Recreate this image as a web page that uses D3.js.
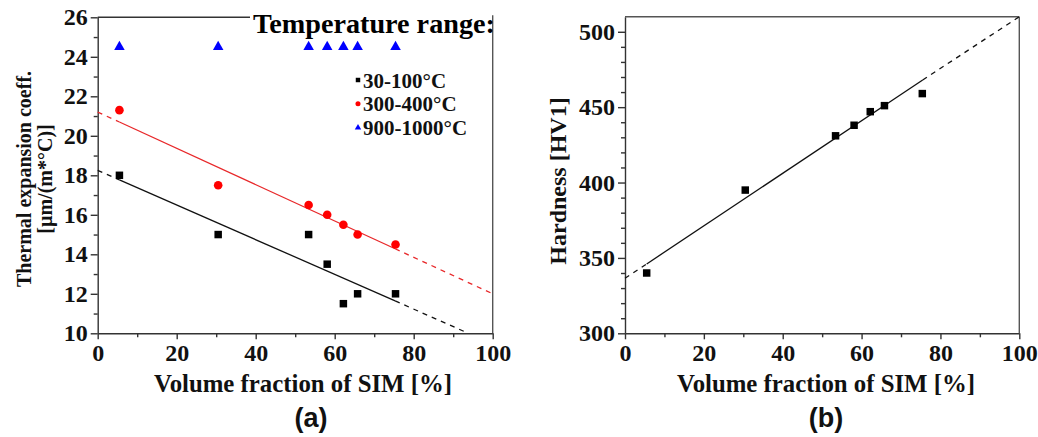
<!DOCTYPE html>
<html>
<head>
<meta charset="utf-8">
<script src="https://cdn.jsdelivr.net/npm/d3@7"></script>
<style>
  body { margin: 0; background: #fff; }
  svg { display: block; }
  .serif { font-family: "Liberation Serif", "Times New Roman", serif; font-weight: bold; }
  .axis text { font-family: "Liberation Serif", "Times New Roman", serif; font-weight: bold; font-size: 24px; fill: #111; }
  .axis path, .axis line { stroke: #333; stroke-width: 1.4; }
</style>
</head>
<body>
<svg width="1038" height="437"></svg>
<script>
// volume fraction of SIM [%] for the seven samples
const simFraction = [5.5, 30.5, 53.4, 58.1, 62.2, 65.8, 75.4];

// (a) thermal expansion coefficient, µm/(m*°C)
const cte30_100 = [18.0, 15.0, 15.0, 13.5, 11.5, 12.0, 12.0];
const cte300_400 = [21.3, 17.5, 16.5, 16.0, 15.5, 15.0, 14.5];
const cte900_1000 = [24.5, 24.5, 24.5, 24.5, 24.5, 24.5, 24.5];

// (b) hardness, HV1
const hardness = [340, 395, 431, 438, 447, 451, 459];

// linear fits: [x, y] ends of solid part and dashed extensions
const fit30Solid = [[5.5, 17.77], [75.3, 11.64]];
const fit30Dash = [[[0, 18.25], [5.5, 17.77]], [[75.3, 11.64], [92.7, 10.1]]];
const fit300Solid = [[5.5, 20.7], [75.3, 14.28]];
const fit300Dash = [[[0, 21.2], [5.5, 20.7]], [[75.3, 14.28], [100, 12.0]]];
const fitHvSolid = [[5.5, 346], [75.5, 468]];
const fitHvDash = [[[0, 336.5], [5.5, 346]], [[75.5, 468], [100, 510]]];

const xMajor = [0, 20, 40, 60, 80, 100];
const xMinor = [10, 30, 50, 70, 90];
const yMajorA = [10, 12, 14, 16, 18, 20, 22, 24, 26];
const yMinorA = [11, 13, 15, 17, 19, 21, 23, 25];
const yMajorB = [300, 350, 400, 450, 500];
const yMinorB = [310, 320, 330, 340, 360, 370, 380, 390, 410, 420, 430, 440, 460, 470, 480, 490];

const legendLabels = ['30-100°C', '300-400°C', '900-1000°C'];
const legendColors = ['#000', '#ff0000', '#0000ff'];

const svg = d3.select('svg');

const xA = d3.scaleLinear().domain([0, 100]).range([97.7, 492.7]);
const yA = d3.scaleLinear().domain([10, 26]).range([333.3, 17.3]);
const xB = d3.scaleLinear().domain([0, 100]).range([625, 1019.3]);
const yB = d3.scaleLinear().domain([300, 510]).range([333.3, 16.7]);

function drawAxes(x, y, yMajor, yMinor) {
  const gx = svg.append('g').attr('class', 'axis').attr('transform', `translate(0,${y.range()[0]})`);
  gx.call(d3.axisBottom(x).tickValues(xMajor).tickSize(6).tickPadding(5).tickSizeOuter(0));
  gx.append('g').call(d3.axisBottom(x).tickValues(xMinor).tickSize(4).tickFormat('').tickSizeOuter(0))
    .select('.domain').remove();

  const gy = svg.append('g').attr('class', 'axis').attr('transform', `translate(${x.range()[0]},0)`);
  gy.call(d3.axisLeft(y).tickValues(yMajor).tickSize(7).tickPadding(3).tickSizeOuter(0));
  gy.append('g').call(d3.axisLeft(y).tickValues(yMinor).tickSize(4).tickFormat('').tickSizeOuter(0))
    .select('.domain').remove();
}

drawAxes(xA, yA, yMajorA, yMinorA);
drawAxes(xB, yB, yMajorB, yMinorB);

// frame lines (top / right)
svg.append('line').attr('x1', xA(0)).attr('x2', 250).attr('y1', yA(26)).attr('y2', yA(26))
  .attr('stroke', '#333').attr('stroke-width', 1.4);
svg.append('line').attr('x1', xA(100)).attr('x2', xA(100)).attr('y1', yA(26) - 2).attr('y2', yA(10))
  .attr('stroke', '#555').attr('stroke-width', 1.4);
svg.append('line').attr('x1', xB(0)).attr('x2', xB(100)).attr('y1', yB(510)).attr('y2', yB(510))
  .attr('stroke', '#555').attr('stroke-width', 1.4);
svg.append('line').attr('x1', xB(100)).attr('x2', xB(100)).attr('y1', yB(510)).attr('y2', yB(300))
  .attr('stroke', '#555').attr('stroke-width', 1.4);

function fitLines(x, y, solid, dashes, color) {
  const line = d3.line().x(d => x(d[0])).y(d => y(d[1]));
  svg.append('path').attr('d', line(solid)).attr('fill', 'none')
    .attr('stroke', color).attr('stroke-width', 1.3);
  dashes.forEach(seg => {
    svg.append('path').attr('d', line(seg)).attr('fill', 'none')
      .attr('stroke', color).attr('stroke-width', 1.3).attr('stroke-dasharray', '5,5');
  });
}

fitLines(xA, yA, fit30Solid, fit30Dash, '#111');
fitLines(xA, yA, fit300Solid, fit300Dash, '#e8282a');
fitLines(xB, yB, fitHvSolid, fitHvDash, '#111');

const square = d3.symbol().type(d3.symbolSquare).size(56);
const circle = d3.symbol().type(d3.symbolCircle).size(58);
const triangle = d3.symbol().type(d3.symbolTriangle).size(48);

function points(x, y, ys, sym, color) {
  svg.append('g').selectAll('path').data(ys).join('path')
    .attr('d', sym)
    .attr('transform', (d, i) => `translate(${x(simFraction[i])},${y(d)})`)
    .attr('fill', color);
}

points(xA, yA, cte30_100, square, '#000');
points(xA, yA, cte300_400, circle, '#ff0000');
points(xA, yA, cte900_1000, triangle, '#0000ff');
points(xB, yB, hardness, square, '#000');

// legend
svg.append('text').attr('class', 'serif').attr('x', 253).attr('y', 33)
  .attr('font-size', 28.2).attr('fill', '#000').text('Temperature range:');

const legendSyms = [
  d3.symbol().type(d3.symbolSquare).size(20),
  d3.symbol().type(d3.symbolCircle).size(20),
  d3.symbol().type(d3.symbolTriangle).size(18)
];
const lg = svg.append('g').selectAll('g').data(legendLabels).join('g')
  .attr('transform', (d, i) => `translate(358,${80 + i * 23.8})`);
lg.append('path').attr('d', (d, i) => legendSyms[i]()).attr('fill', (d, i) => legendColors[i]);
lg.append('text').attr('class', 'serif').attr('x', 5).attr('y', 7.5)
  .attr('font-size', 21).attr('fill', '#111').text(d => d);

// axis titles
svg.append('text').attr('class', 'serif').attr('text-anchor', 'middle')
  .attr('transform', 'translate(31,179) rotate(-90)').attr('font-size', 20).attr('fill', '#111')
  .text('Thermal expansion coeff.');
svg.append('text').attr('class', 'serif').attr('text-anchor', 'middle')
  .attr('transform', 'translate(52,179) rotate(-90)').attr('font-size', 20).attr('fill', '#111')
  .text('[µm/(m*°C)]');
svg.append('text').attr('class', 'serif').attr('text-anchor', 'middle')
  .attr('transform', 'translate(566,181) rotate(-90)').attr('font-size', 24).attr('fill', '#111')
  .text('Hardness [HV1]');

svg.append('text').attr('class', 'serif').attr('text-anchor', 'middle')
  .attr('x', 303).attr('y', 392).attr('font-size', 24.8).attr('fill', '#111')
  .text('Volume fraction of SIM [%]');
svg.append('text').attr('class', 'serif').attr('text-anchor', 'middle')
  .attr('x', 826).attr('y', 392).attr('font-size', 24.8).attr('fill', '#111')
  .text('Volume fraction of SIM [%]');

// panel letters
svg.append('text').attr('text-anchor', 'middle').attr('x', 311).attr('y', 427)
  .attr('font-family', '"Liberation Sans", Arial, sans-serif').attr('font-size', 27)
  .attr('font-weight', 'bold').attr('fill', '#111').text('(a)');
svg.append('text').attr('text-anchor', 'middle').attr('x', 826).attr('y', 427)
  .attr('font-family', '"Liberation Sans", Arial, sans-serif').attr('font-size', 27)
  .attr('font-weight', 'bold').attr('fill', '#111').text('(b)');
</script>
</body>
</html>
